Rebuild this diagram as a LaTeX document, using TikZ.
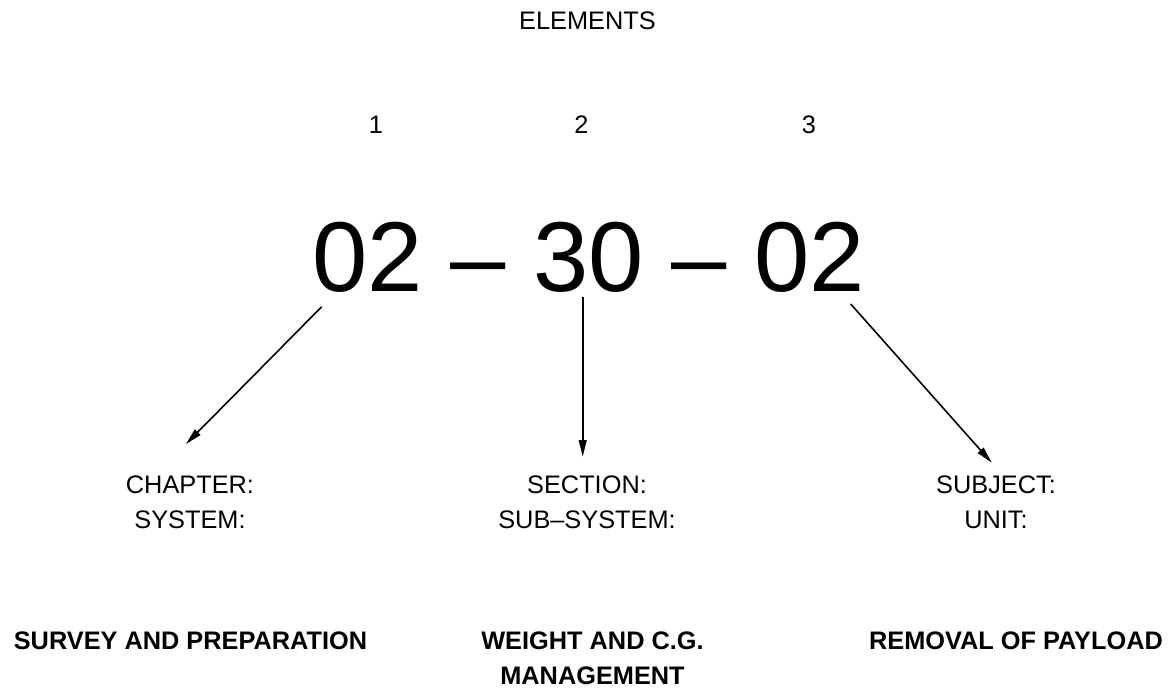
\documentclass[tikz,border=0pt]{standalone}
\usepackage{fontspec}
\setmainfont{Liberation Sans}
\usetikzlibrary{arrows.meta}
\begin{document}
\begin{tikzpicture}[x=0.75pt,y=-0.75pt,
  lbl/.style={inner sep=0pt,font=\fontsize{19}{26.25}\selectfont,align=center},
  blbl/.style={inner sep=0pt,font=\fontsize{19}{26.25}\selectfont\bfseries,align=center},
  big/.style={inner sep=0pt,font=\fontsize{74.5}{80}\selectfont},
  arr/.style={line width=1.2pt,-{Triangle[length=12.5pt,width=5.8pt]}}]
\useasboundingbox[fill=white] (0,0) rectangle (1171,690);
% header
\node[lbl,anchor=base] (elem) at (587.5,29.3) {ELEMENTS};
\node[lbl,anchor=base] (n1) at (376,133) {1};
\node[lbl,anchor=base] (n2) at (581.5,133) {2};
\node[lbl,anchor=base] (n3) at (809,133) {3};
% big code
\node[big,anchor=base] (code) at (588.5,291) {02 – 30 – 02};
% labels
\node[lbl,anchor=north] (chap) at (190,475.5) {CHAPTER:\\SYSTEM:};
\node[lbl,anchor=north] (sect) at (587,475.5) {SECTION:\\SUB–SYSTEM:};
\node[lbl,anchor=north] (subj) at (996,475.5) {SUBJECT:\\UNIT:};
% bold titles
\node[blbl,anchor=north] (t1) at (190.5,631.5) {SURVEY AND PREPARATION};
\node[blbl,anchor=north] (t2) at (592.5,631.5) {WEIGHT AND C.G.\\MANAGEMENT};
\node[blbl,anchor=north] (t3) at (1016,631.5) {REMOVAL OF PAYLOAD};
% connector points
\coordinate (s1) at (321.7,306.7);
\coordinate (e1) at (186,444);
\coordinate (s2) at (582.7,296.7);
\coordinate (e2) at (582.7,456.7);
\coordinate (s3) at (850.7,304);
\coordinate (e3) at (991.7,462.7);
\draw[arr] (s1) -- (e1);
\draw[arr] (s2) -- (e2);
\draw[arr] (s3) -- (e3);
\end{tikzpicture}
\end{document}
